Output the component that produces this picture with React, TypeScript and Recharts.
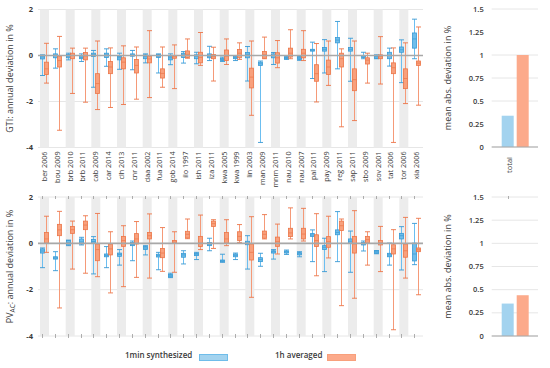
import React from "react";
import { ComposedChart, Bar, XAxis, YAxis, CartesianGrid, ReferenceLine, Label } from "recharts";

const stations = [
  "ber 2006", "bou 2009", "brb 2010", "brb 2011", "cab 2009", "car 2014", "clh 2013", "cnr 2011",
  "daa 2002", "fua 2011", "gob 2014", "ilo 1997", "ish 2011", "iza 2011", "kwa 2005", "kwa 1999",
  "lin 2003", "man 2009", "mnm 2011", "nau 2010", "nau 2007", "pal 2011", "pay 2009", "reg 2011",
  "sap 2011", "sbo 2009", "sov 2001", "tat 2006", "tor 2006", "xia 2006",
];

// each entry: [min, q1, median, q3, max]
const gtiSynth = [
  [-0.87, -0.15, -0.06, 0.0, 0.03], [-0.55, -0.1, 0.0, 0.07, 0.29], [-0.19, -0.1, -0.03, 0.04, 0.1],
  [-0.26, -0.14, -0.08, -0.01, 0.07], [-1.38, -0.04, 0.03, 0.1, 0.22], [-0.47, -0.09, 0.02, 0.1, 0.29],
  [-0.6, -0.19, -0.1, -0.04, 0.1], [-0.62, -0.03, 0.02, 0.07, 0.22], [-0.32, -0.14, -0.05, 0.03, 0.07],
  [-0.76, -0.09, -0.02, 0.04, 0.07], [-0.4, -0.19, -0.1, -0.03, 0.07], [-0.33, -0.09, 0.02, 0.1, 0.17],
  [-0.36, -0.14, -0.03, 0.03, 0.14], [-0.22, -0.1, -0.02, 0.07, 0.4], [-0.26, -0.22, -0.17, -0.12, -0.07],
  [-0.22, -0.14, -0.08, -0.03, 0.0], [-1.11, -0.1, 0.05, 0.13, 0.39], [-3.78, -0.43, -0.36, -0.29, -0.24],
  [-0.39, -0.1, 0.0, 0.07, 0.13], [-0.17, -0.14, -0.1, -0.07, -0.05], [-0.21, -0.17, -0.12, -0.07, -0.04],
  [-1.0, 0.19, 0.23, 0.27, 0.58], [-0.76, 0.19, 0.27, 0.35, 0.69], [-0.58, 0.55, 0.67, 0.78, 1.48],
  [-1.12, 0.19, 0.27, 0.35, 0.75], [-0.14, -0.09, -0.03, 0.0, 0.14], [-0.14, -0.12, -0.05, 0.0, 0.03],
  [-0.46, -0.14, 0.0, 0.14, 0.32], [-1.18, 0.14, 0.25, 0.37, 0.68], [-0.14, 0.32, 0.72, 0.98, 1.58],
];

const gtiAvg = [
  [-1.2, -0.83, -0.58, -0.29, 0.53], [-3.25, -0.5, -0.22, -0.03, 0.83], [-1.65, -0.14, 0.0, 0.1, 0.32],
  [-2.03, -0.19, -0.02, 0.13, 0.32], [-2.35, -1.65, -1.22, -0.79, 0.63], [-2.26, -0.79, -0.5, -0.26, 0.33],
  [-2.13, -0.58, -0.29, -0.1, 0.42], [-1.9, -0.76, -0.43, -0.17, 0.37], [-1.83, -0.32, -0.15, -0.03, 1.08],
  [-1.38, -0.98, -0.78, -0.58, 0.37], [-1.44, -0.12, -0.05, 0.0, 0.46], [-0.12, -0.09, 0.05, 0.2, 0.72],
  [-0.43, -0.32, -0.08, 0.14, 1.0], [-1.11, -0.14, -0.05, 0.04, 0.36], [-0.39, -0.22, -0.03, 0.24, 0.72],
  [-0.17, -0.1, 0.1, 0.26, 0.55], [-2.6, -1.41, -0.94, -0.55, 0.63], [-0.14, -0.12, 0.03, 0.17, 0.8],
  [-0.53, -0.33, -0.1, 0.12, 0.65], [-0.14, -0.07, 0.1, 0.32, 1.12], [-0.22, -0.1, 0.1, 0.27, 1.08],
  [-2.02, -1.12, -0.79, -0.4, 0.52], [-1.3, -0.83, -0.5, -0.2, 0.63], [-3.1, -0.5, -0.14, 0.1, 0.29],
  [-2.83, -1.53, -1.05, -0.58, 0.63], [-1.2, -0.37, -0.2, -0.1, 0.1], [-1.24, -0.14, -0.05, 0.03, 0.82],
  [-3.78, -0.79, -0.53, -0.32, 0.33], [-2.09, -1.44, -1.0, -0.58, 0.55], [-2.16, -0.43, -0.33, -0.24, 1.24],
];

const pvSynth = [
  [-1.05, -0.42, -0.33, -0.24, -0.2], [-1.18, -0.68, -0.63, -0.58, -0.36], [-0.1, -0.07, 0.02, 0.12, 0.14],
  [-0.07, -0.03, 0.06, 0.19, 0.26], [-1.32, 0.01, 0.08, 0.17, 0.29], [-1.05, -0.58, -0.52, -0.46, -0.14],
  [-0.94, -0.56, -0.48, -0.42, -0.27], [-0.75, -0.1, -0.04, 0.04, 0.1], [-0.5, -0.27, -0.2, -0.14, -0.1],
  [-1.14, -0.59, -0.53, -0.47, -0.39], [-1.48, -1.45, -1.4, -1.34, -1.29], [-0.89, -0.6, -0.5, -0.43, -0.32],
  [-0.7, -0.53, -0.47, -0.43, -0.39], [-0.32, -0.1, -0.03, 0.04, 0.22], [-0.82, -0.79, -0.75, -0.72, -0.47],
  [-0.7, -0.58, -0.52, -0.46, -0.42], [-1.11, -0.06, 0.0, 0.09, 0.33], [-0.99, -0.79, -0.7, -0.62, -0.43],
  [-0.68, -0.42, -0.36, -0.32, -0.27], [-0.48, -0.42, -0.37, -0.33, -0.29], [-0.58, -0.5, -0.45, -0.4, -0.36],
  [-0.79, 0.3, 0.36, 0.42, 0.58], [-1.22, -0.27, -0.17, -0.1, 0.22], [-0.79, 0.37, 0.47, 0.58, 1.37],
  [-1.25, -0.01, 0.09, 0.19, 0.53], [-0.33, -0.07, -0.02, 0.04, 0.1], [-0.45, -0.43, -0.38, -0.33, -0.31],
  [-0.94, -0.58, -0.5, -0.43, 0.01], [-1.15, 0.19, 0.33, 0.43, 0.72], [-0.92, -0.76, -0.46, 0.01, 0.86],
];

const pvAvg = [
  [-0.39, 0.01, 0.19, 0.47, 1.17], [-2.79, 0.33, 0.58, 0.82, 1.38], [-1.11, 0.43, 0.59, 0.73, 0.96],
  [-1.29, 0.59, 0.79, 0.96, 1.19], [-1.44, -0.75, -0.27, -0.03, 1.29], [-2.14, -0.5, -0.24, -0.03, 0.5],
  [-1.87, -0.13, 0.12, 0.3, 0.76], [-1.47, -0.03, 0.19, 0.42, 0.94], [-1.5, 0.19, 0.33, 0.47, 1.27],
  [-1.21, -0.62, -0.42, -0.22, 0.68], [-1.25, 0.0, 0.05, 0.12, 0.5], [0.2, 0.23, 0.39, 0.52, 1.05],
  [-0.27, -0.14, 0.01, 0.3, 1.22], [-0.22, 0.73, 0.85, 0.96, 1.02], [-0.1, 0.01, 0.19, 0.47, 1.02],
  [0.04, 0.12, 0.3, 0.5, 0.81], [-2.33, -0.72, -0.39, -0.03, 1.15], [0.19, 0.22, 0.39, 0.53, 1.24],
  [-0.46, -0.13, 0.07, 0.27, 0.83], [0.19, 0.29, 0.45, 0.65, 1.53], [0.1, 0.19, 0.4, 0.65, 1.51],
  [-1.4, -0.14, 0.12, 0.37, 1.28], [-0.63, -0.17, 0.07, 0.29, 1.17], [-2.69, 0.55, 0.76, 0.96, 1.05],
  [-2.37, -0.42, -0.03, 0.3, 1.41], [-0.94, 0.01, 0.16, 0.3, 0.5], [-1.22, -0.07, 0.02, 0.12, 0.73],
  [-3.73, -0.46, -0.24, -0.06, 0.59], [-1.5, -0.6, -0.32, -0.03, 1.12], [-2.22, -0.36, -0.28, -0.2, 1.08],
];

const seriesNames = ["1min synthesized", "1h averaged"];
const gtiMae = [0.34, 1.0];
const pvMae = [0.35, 0.44];
const maeTicks = [0, 0.25, 0.5, 0.75, 1, 1.25, 1.5];
const devTicks = [-4, -2, 0, 2];

const BLUE = { box: "#6fbdea", line: "#3899d4", whisker: "#6cbef0", bar: "#a3d3ef" };
const ORANGE = { box: "#f8a07c", line: "#ec7548", whisker: "#f59a78", bar: "#fcaa8b" };
const TXT = "#3a3a3a";

const rows = (s: number[][], a: number[][]) =>
  stations.map((name, i) => ({ name, stripe: i % 2 === 0 ? [-4, 2] : null, s: s[i], a: a[i] }));

const gtiRows = rows(gtiSynth, gtiAvg);
const pvRows = rows(pvSynth, pvAvg);

function boxShape(key: "s" | "a", c: typeof BLUE, marks: boolean) {
  return (p: any) => {
    const st = p.payload && p.payload[key];
    if (!st) return <g />;
    const [mn, q1, md, q3, mx] = st;
    const top = Math.min(p.y, p.y + p.height);
    const bot = Math.max(p.y, p.y + p.height);
    const py = (v: number) => top + ((mx - v) / (mx - mn)) * (bot - top);
    // snap the whisker to the pixel grid so the 1px line stays crisp
    const cx = Math.round(p.x + p.width / 2) + 0.5;
    const w = 4;
    return (
      <g>
        {marks && (
          <g stroke="#9a9a9a" strokeWidth={0.8}>
            <line x1={cx} x2={cx} y1={py(2) - 1} y2={py(2) + 2} />
            <line x1={cx} x2={cx} y1={py(-4) - 2} y2={py(-4) + 2} />
          </g>
        )}
        <line x1={cx} x2={cx} y1={py(mx)} y2={py(mn)} stroke={c.whisker} strokeWidth={1} />
        <line x1={cx - 2.5} x2={cx + 2.5} y1={py(mx)} y2={py(mx)} stroke={c.line} strokeWidth={0.9} />
        <line x1={cx - 2.5} x2={cx + 2.5} y1={py(mn)} y2={py(mn)} stroke={c.line} strokeWidth={0.9} />
        <rect x={cx - w / 2} y={py(q3)} width={w} height={Math.max(py(q1) - py(q3), 1.5)} fill={c.box} stroke={c.line} strokeWidth={0.8} />
        <line x1={cx - w / 2} x2={cx + w / 2} y1={py(md)} y2={py(md)} stroke={c.line} strokeWidth={0.7} />
      </g>
    );
  };
}

function maeShape(c: typeof BLUE, mark: boolean) {
  return (p: any) => {
    const top = Math.min(p.y, p.y + p.height);
    const bot = Math.max(p.y, p.y + p.height);
    const v = p.value instanceof Array ? p.value[1] : p.value;
    const py = (t: number) => bot - (t / v) * (bot - top);
    const cx = Math.round(p.x + p.width / 2) + 0.5;
    return (
      <g>
        <rect x={p.x} y={top} width={p.width} height={bot - top} fill={c.bar} />
        {mark && <line x1={cx} x2={cx} y1={py(1.5) - 1} y2={py(1.5) + 2} stroke="#9a9a9a" strokeWidth={0.8} />}
      </g>
    );
  };
}

const StationTick = (p: any) => (
  <text x={p.x} y={p.y} transform={`rotate(-90 ${p.x} ${p.y})`} textAnchor="end" dy="0.35em" dx={4} fontSize={7.2} fill={TXT}>
    {p.payload.value}
  </text>
);

const TotalTick = (p: any) => (
  <text x={p.x - 5} y={p.y} transform={`rotate(-90 ${p.x - 5} ${p.y})`} textAnchor="end" dy="0.35em" dx={-2} fontSize={7.5} fill={TXT}>
    {p.payload.value}
  </text>
);

const axisLabel = (x: number, text: React.ReactNode) => (props: any) => {
  const vb = props.viewBox || {};
  const cy = vb.y + vb.height / 2;
  return (
    <text x={x} y={cy} transform={`rotate(-90 ${x} ${cy})`} textAnchor="middle" dy="0.35em" fontSize={9} fill={TXT}>
      {text}
    </text>
  );
};

function BoxChart({ data, pv }: { data: any[]; pv: boolean }) {
  return (
    <ComposedChart
      width={430}
      height={pv ? 160 : 190}
      data={data}
      barGap={0}
      margin={pv ? { top: 10, right: 7, bottom: 11, left: 0 } : { top: 9.5, right: 7, bottom: 0, left: 0 }}
    >
      <CartesianGrid horizontal vertical={false} stroke="#e6e6e6" />
      <XAxis xAxisId="bg" dataKey="name" hide />
      <XAxis dataKey="name" hide={pv} height={42.5} axisLine={false} tickLine={false} interval={0} tick={<StationTick />} />
      <YAxis
        domain={[-4, 2]}
        ticks={devTicks}
        width={38}
        axisLine={false}
        tickLine={false}
        tickSize={3}
        tickMargin={2}
        tick={{ fontSize: 7.5, fill: TXT, fontWeight: 700 }}
      >
        <Label
          content={axisLabel(
            10,
            pv ? (
              <>
                PV<tspan dy={2} fontSize={6.5}>AC</tspan>
                <tspan dy={-2}>: annual deviation in %</tspan>
              </>
            ) : (
              "GTI: annual deviation in %"
            )
          )}
        />
      </YAxis>
      <Bar xAxisId="bg" dataKey="stripe" barSize={9} fill="#ececec" isAnimationActive={false} />
      <ReferenceLine y={0} stroke="#a8a8a8" strokeWidth={1.6} />
      <Bar dataKey={(d: any) => [d.s[0], d.s[4]]} barSize={4} isAnimationActive={false} shape={boxShape("s", BLUE, pv)} />
      <Bar dataKey={(d: any) => [d.a[0], d.a[4]]} barSize={4} isAnimationActive={false} shape={boxShape("a", ORANGE, false)} />
    </ComposedChart>
  );
}

function MaeChart({ values, pv }: { values: number[]; pv: boolean }) {
  const data = [{ name: "total", s: values[0], a: values[1] }];
  return (
    <ComposedChart
      width={110}
      height={pv ? 160 : 190}
      data={data}
      barGap={3}
      margin={pv ? { top: 10, right: 12, bottom: 11, left: 0 } : { top: 9, right: 12, bottom: 0, left: 0 }}
    >
      <CartesianGrid horizontal vertical={false} stroke="#e6e6e6" />
      <XAxis dataKey="name" hide={pv} height={43} axisLine={false} tickLine={false} tick={<TotalTick />} />
      <YAxis
        domain={[0, 1.5]}
        ticks={maeTicks}
        width={51.7}
        axisLine={false}
        tickLine={false}
        tick={{ fontSize: 7.5, fill: TXT, fontWeight: 600 }}
      >
        <Label content={axisLabel(7.5, "mean abs. deviation in %")} />
      </YAxis>
      <ReferenceLine y={0} stroke="#a8a8a8" strokeWidth={1.2} />
      <Bar dataKey="s" barSize={12} isAnimationActive={false} shape={maeShape(BLUE, pv)} />
      <Bar dataKey="a" barSize={12} isAnimationActive={false} shape={maeShape(ORANGE, false)} />
    </ComposedChart>
  );
}

export default function App() {
  const abs = (left: number, top: number): React.CSSProperties => ({ position: "absolute", left, top });
  return (
    <div
      style={{
        position: "absolute",
        left: 0,
        top: 0,
        width: 550,
        height: 368,
        background: "#fff",
        fontFamily: "'Open Sans', sans-serif",
        overflow: "hidden",
      }}
    >
      <div style={abs(0, 0)}>
        <BoxChart data={gtiRows} pv={false} />
      </div>
      <div style={abs(440, 0)}>
        <MaeChart values={gtiMae} pv={false} />
      </div>
      <div style={abs(0, 187)}>
        <BoxChart data={pvRows} pv={true} />
      </div>
      <div style={abs(440, 187)}>
        <MaeChart values={pvMae} pv={true} />
      </div>
      <div style={{ ...abs(125, 350), fontSize: 8, fontWeight: 600, color: TXT, lineHeight: "10px" }}>{seriesNames[0]}</div>
      <div style={{ ...abs(199, 353.5), width: 27, height: 5, background: BLUE.bar, border: `1px solid ${BLUE.box}` }} />
      <div style={{ ...abs(275, 350), fontSize: 8, fontWeight: 600, color: TXT, lineHeight: "10px" }}>{seriesNames[1]}</div>
      <div style={{ ...abs(327, 353.5), width: 27, height: 5, background: ORANGE.bar, border: `1px solid ${ORANGE.box}` }} />
    </div>
  );
}
